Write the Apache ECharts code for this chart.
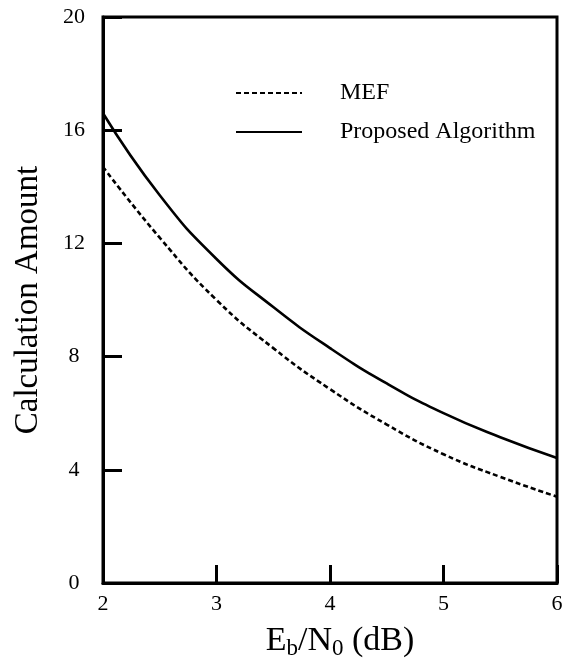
<!DOCTYPE html>
<html>
<head>
<meta charset="utf-8">
<script src="https://cdn.jsdelivr.net/npm/echarts@6/dist/echarts.min.js"></script>
<style>html,body{margin:0;padding:0;background:#fff;}#c{width:566px;height:664px;}</style>
</head>
<body>
<div id="c"></div>
<script>
const xValues = [2, 2.5, 3, 3.5, 4, 4.5, 5, 5.5, 6];
const mefValues = [14.7, 12.2, 10.0, 8.3, 6.85, 5.6, 4.55, 3.75, 3.05];
const proposedValues = [16.6, 13.7, 11.45, 9.75, 8.3, 7.05, 6.0, 5.15, 4.42];
const seriesNames = ['MEF', 'Proposed Algorithm'];
const yTicks = [0, 4, 8, 12, 16, 20];
const xTicks = [2, 3, 4, 5, 6];

const font = 'Liberation Serif, Times New Roman, serif';
const chart = echarts.init(document.getElementById('c'), null, {renderer: 'canvas'});
chart.setOption({
  animation: false,
  backgroundColor: '#fff',
  grid: {left: 103, right: 9, top: 17, bottom: 81, containLabel: false, outerBoundsMode: 'none',
         show: true, borderColor: '#000', borderWidth: 3, backgroundColor: 'transparent'},
  legend: {
    orient: 'vertical', left: 230, top: 76, itemWidth: 66, itemHeight: 14, itemGap: 15,
    itemStyle: {opacity: 0},
    textStyle: {fontFamily: font, fontSize: 24, color: '#000', padding: [0, 0, 0, 33]},
    data: seriesNames
  },
  xAxis: {
    type: 'value', min: 2, max: 6, interval: 1,
    axisLine: {lineStyle: {color: '#000', width: 3}},
    axisTick: {inside: true, length: 18, lineStyle: {color: '#000', width: 3}},
    axisLabel: {fontFamily: font, fontSize: 22, color: '#000', margin: 10},
    splitLine: {show: false},
    name: 'E{sub|b}/N{sub|0} (dB)', nameLocation: 'middle', nameGap: 39,
    nameTextStyle: {fontFamily: font, fontSize: 34, color: '#000', padding: [0, 0, 0, 20],
      rich: {sub: {fontFamily: font, fontSize: 23, color: '#000', verticalAlign: 'bottom', padding: [15, 0, 0, 0]}}}
  },
  yAxis: {
    type: 'value', min: 0, max: 20, interval: 4,
    axisLine: {lineStyle: {color: '#000', width: 3}},
    axisTick: {inside: true, length: 19, lineStyle: {color: '#000', width: 3}},
    axisLabel: {fontFamily: font, fontSize: 22, color: '#000', margin: 29, align: 'center'},
    splitLine: {show: false},
    name: 'Calculation Amount', nameLocation: 'middle', nameGap: 58,
    nameTextStyle: {fontFamily: font, fontSize: 33, color: '#000'}
  },
  series: [
    {name: seriesNames[0], type: 'line', symbol: 'none', smooth: true,
     data: xValues.map((x, i) => [x, mefValues[i]]),
     lineStyle: {color: '#000', width: 2.6, type: [5, 3]}, itemStyle: {color: '#000'}},
    {name: seriesNames[1], type: 'line', symbol: 'none', smooth: true,
     data: xValues.map((x, i) => [x, proposedValues[i]]),
     lineStyle: {color: '#000', width: 2.6, type: 'solid'}, itemStyle: {color: '#000'}}
  ]
});
</script>
</body>
</html>
